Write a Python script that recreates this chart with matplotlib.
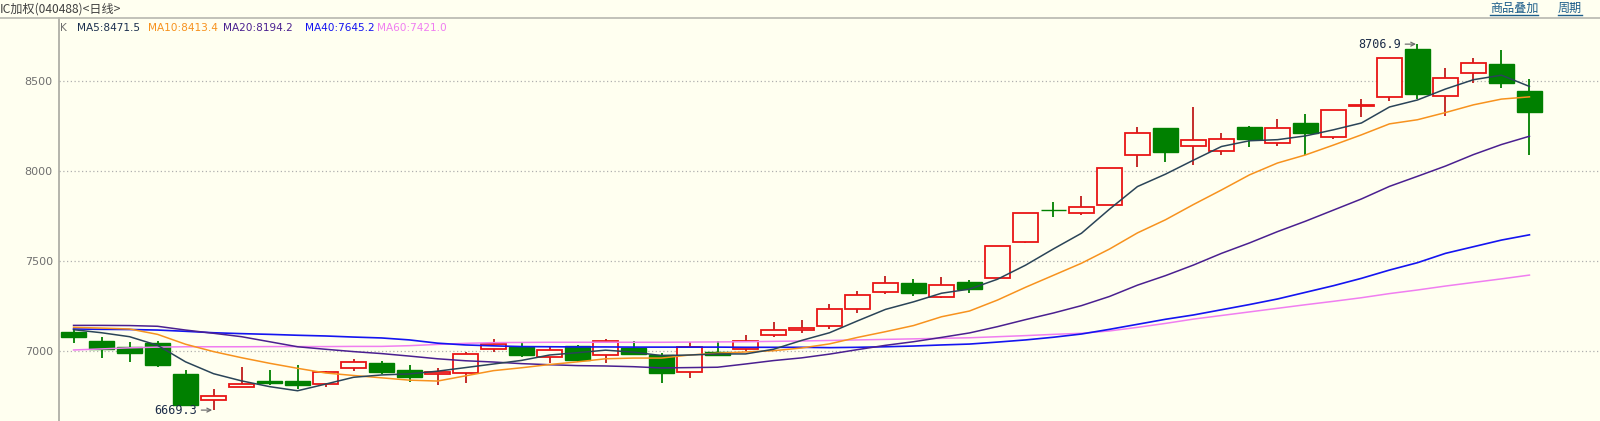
import numpy as np
import matplotlib.pyplot as plt
from matplotlib.patches import Rectangle
from matplotlib.lines import Line2D

# ---- daily candles (IC加权) ----
opens = [7104, 7054, 7019, 7043, 6872, 6724, 6800, 6833, 6833, 6813,
         6902, 6931, 6893, 6869, 6874, 7008, 7022, 6963, 7024, 6974,
         7015, 6978, 6880, 6991, 7008, 7086, 7118, 7138, 7231, 7325,
         7377, 7301, 7383, 7406, 7607, 7784, 7765, 7810, 8088, 8240,
         8138, 8110, 8244, 8155, 8266, 8188, 8361, 8411, 8678, 8417,
         8545, 8596, 8446]
highs = [7121, 7078, 7047, 7054, 6893, 6787, 6907, 6893, 6922, 6886,
         6955, 6940, 6921, 6904, 6991, 7065, 7048, 7022, 7033, 7065,
         7054, 6985, 7047, 7054, 7089, 7160, 7170, 7260, 7332, 7416,
         7399, 7410, 7392, 7585, 7765, 7828, 7861, 8016, 8246, 8240,
         8356, 8212, 8249, 8290, 8318, 8339, 8402, 8628, 8706.9, 8574,
         8630, 8674, 8513]
lows = [7045, 6957, 6939, 6911, 6690, 6669.3, 6796, 6808, 6785, 6796,
        6885, 6870, 6827, 6811, 6818, 6993, 6967, 6930, 6937, 6933,
        6980, 6822, 6848, 6975, 7000, 7078, 7100, 7119, 7212, 7317,
        7306, 7293, 7323, 7404, 7598, 7746, 7754, 7810, 8025, 8052,
        8035, 8091, 8136, 8141, 8090, 8177, 8303, 8392, 8400, 8308,
        8489, 8463, 8090]
closes = [7078, 7011, 6985, 6922, 6696, 6746, 6813, 6822, 6807, 6881,
          6937, 6879, 6852, 6881, 6982, 7037, 6976, 7002, 6948, 7052,
          6983, 6878, 7019, 6978, 7052, 7114, 7124, 7231, 7308, 7375,
          7323, 7364, 7345, 7581, 7765, 7782, 7798, 8016, 8210, 8108,
          8172, 8177, 8180, 8238, 8214, 8339, 8368, 8628, 8431, 8517,
          8600, 8492, 8331]

# ---- moving averages as drawn ----
ma5 = [7117, 7100, 7078, 7030, 6938, 6872, 6832, 6800, 6777, 6814,
       6852, 6865, 6871, 6886, 6906, 6926, 6946, 6976, 6989, 7003,
       6992, 6973, 6976, 6982, 6982, 7008, 7057, 7100, 7166, 7230,
       7272, 7320, 7343, 7398, 7476, 7567, 7654, 7788, 7914, 7983,
       8061, 8137, 8169, 8175, 8196, 8230, 8268, 8357, 8396, 8457,
       8509, 8534, 8471.5]
ma10 = [7130, 7126, 7121, 7091, 7036, 6995, 6961, 6930, 6902, 6876,
        6862, 6849, 6836, 6831, 6860, 6889, 6905, 6923, 6938, 6955,
        6959, 6959, 6976, 6986, 6993, 7000, 7015, 7038, 7074, 7106,
        7140, 7189, 7221, 7282, 7353, 7420, 7487, 7566, 7656, 7729,
        7814, 7895, 7979, 8045, 8090, 8145, 8202, 8263, 8286, 8326,
        8369, 8401, 8413.4]
ma20 = [7141, 7141, 7140, 7136, 7115, 7097, 7078, 7050, 7022, 7008,
        6995, 6984, 6970, 6955, 6944, 6937, 6928, 6922, 6917, 6915,
        6911, 6904, 6906, 6908, 6926, 6945, 6960, 6981, 7006, 7030,
        7050, 7074, 7099, 7134, 7173, 7210, 7251, 7302, 7365, 7418,
        7477, 7542, 7600, 7663, 7721, 7783, 7845, 7915, 7971, 8028,
        8092, 8148, 8194.2]
ma40 = [7121, 7119, 7118, 7115, 7108, 7100, 7095, 7091, 7086, 7082,
        7076, 7071, 7060, 7042, 7032, 7027, 7023, 7022, 7021, 7021,
        7020, 7020, 7020, 7020, 7019, 7019, 7019, 7017, 7019, 7022,
        7026, 7032, 7037, 7048, 7060, 7075, 7093, 7119, 7147, 7175,
        7199, 7228, 7257, 7288, 7325, 7362, 7403, 7449, 7490, 7542,
        7579, 7616, 7645.2]
ma60 = [7004, 7010, 7016, 7020, 7022, 7022, 7022, 7023, 7023, 7023,
        7024, 7024, 7028, 7035, 7041, 7045, 7046, 7047, 7047, 7047,
        7047, 7047, 7048, 7049, 7050, 7052, 7054, 7057, 7060, 7063,
        7066, 7069, 7072, 7078, 7084, 7091, 7097, 7110, 7130, 7152,
        7176, 7196, 7216, 7236, 7256, 7275, 7295, 7318, 7338, 7360,
        7380, 7400, 7421.0]

yticks = [7000, 7500, 8000, 8500]

BG = '#fffff0'
UP_EDGE, UP_WICK = '#e81515', '#c01c1c'
DOWN = '#008000'
CJK = ['Noto Sans CJK SC', 'DejaVu Sans']

W, H = 1600, 421
fig = plt.figure(figsize=(W / 100, H / 100), dpi=100, facecolor=BG)
ax = fig.add_axes([59 / W, 0, 1 - 59 / W, (H - 18) / H], facecolor=BG)

x = np.arange(len(closes))
bw = 0.88
for i in x:
    o, h, l, c = opens[i], highs[i], lows[i], closes[i]
    if c >= o:
        ax.vlines(i, l, h, color=UP_WICK, lw=1.3, zorder=2)
        ax.add_patch(Rectangle((i - bw / 2, o), bw, max(c - o, 2), facecolor=BG,
                               edgecolor=UP_EDGE, lw=1.3, zorder=3))
    else:
        ax.vlines(i, l, h, color=DOWN, lw=1.3, zorder=2)
        ax.add_patch(Rectangle((i - bw / 2, c), bw, max(o - c, 2), facecolor=DOWN,
                               edgecolor=DOWN, lw=1.0, zorder=3))

ax.plot(x, ma60, color='#f07ef0', lw=1.1, zorder=4)
ax.plot(x, ma40, color='#1414f0', lw=1.2, zorder=4)
ax.plot(x, ma20, color='#4a2090', lw=1.1, zorder=4)
ax.plot(x, ma10, color='#f7921e', lw=1.1, zorder=4)
ax.plot(x, ma5, color='#2a4458', lw=1.1, zorder=4)

# extreme price marks
imin = int(np.argmin(lows))
imax = int(np.argmax(highs))
for i, v in [(imin, lows[imin]), (imax, highs[imax])]:
    ax.annotate(f'{v:.1f}', xy=(i - 0.05, v), xytext=(-15, 0), textcoords='offset pixels',
                ha='right', va='center', fontsize=8.5, family='DejaVu Sans Mono',
                color='#1c2c48', zorder=6,
                arrowprops=dict(arrowstyle='->', color='#707070', lw=0.9,
                                shrinkA=1, shrinkB=0, mutation_scale=7))

ax.set_xlim(-0.52, 54.52)
ax.set_ylim(6608.6, 8852.5)
ax.set_yticks(yticks)
ax.set_yticklabels([str(t) for t in yticks])
ax.set_xticks([])
ax.tick_params(axis='y', length=0, pad=4.5, labelsize=8, labelcolor='#707070')
ax.grid(axis='y', linestyle=(0, (1, 2)), color='#b0b0b0', lw=0.9)
for s in ['top', 'right', 'bottom']:
    ax.spines[s].set_visible(False)
ax.spines['left'].set_color('#a8a8a0')
ax.spines['left'].set_linewidth(1.2)

# header
fig.add_artist(Line2D([0, 1], [1 - 18.3 / H, 1 - 18.3 / H], color='#b8b8b0', lw=1.2))
fig.text(0, 1 - 9 / H, 'IC加权(040488)<日线>', ha='left', va='center',
         fontsize=8.7, color='#404040', family=CJK)
for label, x0, x1 in [('商品叠加', 1490, 1538), ('周期', 1558, 1582)]:
    fig.text(x0 / W, 1 - 8.5 / H, label, ha='left', va='center', fontsize=8.7,
             color='#1d5e8a', family=CJK)
    fig.add_artist(Line2D([x0 / W, x1 / W], [1 - 15 / H, 1 - 15 / H], color='#1d5e8a', lw=1))

legend = [('K', 60, '#707070'),
          (f'MA5:{ma5[-1]:.1f}', 76.7, '#1c3050'),
          (f'MA10:{ma10[-1]:.1f}', 147.7, '#f7921e'),
          (f'MA20:{ma20[-1]:.1f}', 223.3, '#4a2090'),
          (f'MA40:{ma40[-1]:.1f}', 305, '#1414f0'),
          (f'MA60:{ma60[-1]:.1f}', 377.3, '#f07ef0')]
for txt, px, col in legend:
    fig.text(px / W, 1 - 27.7 / H, txt, ha='left', va='center', fontsize=7.6, color=col)

fig.savefig('out.png', dpi=100, facecolor=BG)
